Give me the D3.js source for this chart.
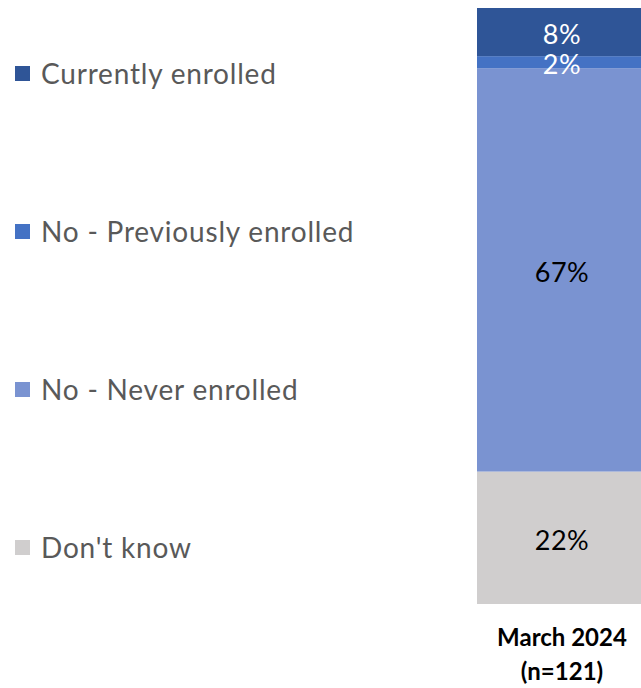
<!DOCTYPE html>
<html>
<head>
<meta charset="utf-8">
<script src="https://cdn.jsdelivr.net/npm/d3@7"></script>
<style>
  html, body { margin: 0; padding: 0; background: #fff; }
  svg { display: block; }
  text { font-family: "Lato", "Open Sans", sans-serif; }
</style>
</head>
<body>
<svg id="chart" width="641" height="688"></svg>
<script>
// Enrollment status, single survey wave (percent of respondents)
const categories = ["March 2024 (n=121)"];
const categoryLines = [["March 2024", "(n=121)"]];
const seriesNames = ["Currently enrolled", "No - Previously enrolled", "No - Never enrolled", "Don't know"];
const seriesValues = {
  "Currently enrolled": [8],
  "No - Previously enrolled": [2],
  "No - Never enrolled": [67],
  "Don't know": [22]
};
const seriesColors = ["#2F5597", "#4472C4", "#7A93D1", "#D0CECE"];
const labelColors = ["#ffffff", "#ffffff", "#000000", "#000000"];

const W = 641, H = 688;
const svg = d3.select("#chart");

// Stacked from the bottom: Don't know first, Currently enrolled on top
const stackOrder = seriesNames.slice().reverse();
const rows = categories.map((c, i) => {
  const r = { category: c };
  seriesNames.forEach(s => r[s] = seriesValues[s][i]);
  return r;
});
const stacked = d3.stack().keys(stackOrder)(rows);
const total = d3.max(rows, r => d3.sum(seriesNames, s => r[s]));

const x = d3.scaleBand().domain(categories).range([477, 647]).paddingInner(0);
const y = d3.scaleLinear().domain([0, total]).range([604, 8]);
const color = d3.scaleOrdinal().domain(seriesNames).range(seriesColors);
const labelColor = d3.scaleOrdinal().domain(seriesNames).range(labelColors);

const layers = svg.append("g").selectAll("g")
  .data(stacked)
  .join("g")
  .attr("fill", d => color(d.key));

layers.selectAll("rect")
  .data(d => d.map(p => ({ key: d.key, p })))
  .join("rect")
  .attr("x", d => x(d.p.data.category))
  .attr("width", x.bandwidth())
  .attr("y", d => y(d.p[1]))
  .attr("height", d => y(d.p[0]) - y(d.p[1]));

// Value labels centred in each segment
svg.append("g").selectAll("text")
  .data(stacked.flatMap(layer => layer.map(p => ({ key: layer.key, p }))))
  .join("text")
  .attr("x", d => x(d.p.data.category) + x.bandwidth() / 2)
  .attr("y", d => (y(d.p[0]) + y(d.p[1])) / 2)
  .attr("dy", "0.45em")
  .attr("text-anchor", "middle")
  .attr("font-size", 27)
  .attr("letter-spacing", 0.5)
  .attr("fill", d => labelColor(d.key))
  .text(d => d.p.data[d.key] + "%");

// Category label under the bar
const catG = svg.append("g");
categories.forEach((c, i) => {
  const t = catG.append("text")
    .attr("x", x(c) + x.bandwidth() / 2)
    .attr("y", 646)
    .attr("text-anchor", "middle")
    .attr("font-size", 24)
    .attr("font-weight", "bold")
    .attr("fill", "#000");
  categoryLines[i].forEach((line, j) => {
    t.append("tspan")
      .attr("x", x(c) + x.bandwidth() / 2)
      .attr("dy", j === 0 ? 0 : 34)
      .text(line);
  });
});

// Legend on the left, spread down the height of the bar
const ly = d3.scalePoint().domain(seriesNames).range([74, 548]);
const legend = svg.append("g").selectAll("g")
  .data(seriesNames)
  .join("g")
  .attr("transform", d => `translate(15,${ly(d)})`);

legend.append("rect")
  .attr("x", 0)
  .attr("y", -8)
  .attr("width", 15)
  .attr("height", 15)
  .attr("fill", d => color(d));

legend.append("text")
  .attr("x", 26)
  .attr("y", 0)
  .attr("dy", "0.36em")
  .attr("font-size", 28)
  .attr("letter-spacing", 0.8)
  .attr("fill", "#595959")
  .text(d => d);
</script>
</body>
</html>
